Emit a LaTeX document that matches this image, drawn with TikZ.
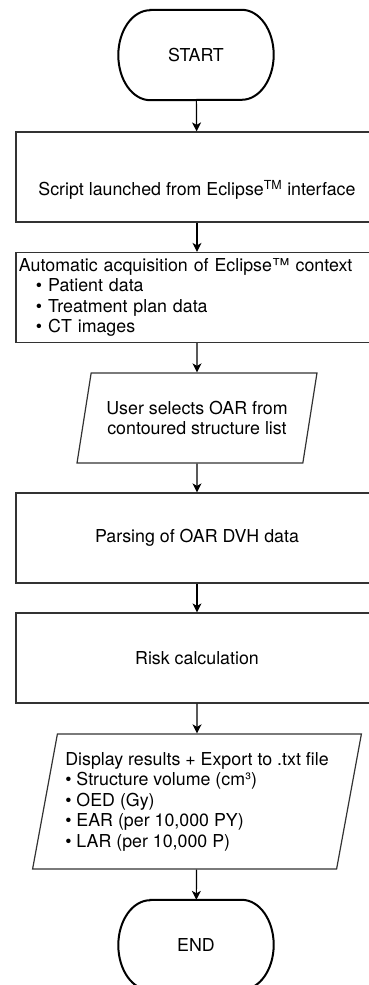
\documentclass[tikz,border=0pt]{standalone}
\usepackage{fontspec}
\setmainfont{TeX Gyre Heros}
\usetikzlibrary{arrows.meta, shapes.geometric}

\begin{document}
\begin{tikzpicture}[
    x=1pt, y=1pt,
    font=\fontsize{17.8}{20.5}\selectfont,
    process/.style={draw=black!80, line width=1.2pt, minimum width=362pt, minimum height=90pt, inner sep=3pt},
    io box/.style={trapezium, trapezium stretches=true, draw=black!80, line width=1.2pt, inner sep=2pt},
    term node/.style={minimum width=155pt, minimum height=90pt},
    term line/.style={line width=2pt},
    arrow/.style={-{Stealth[length=9pt, width=9pt, inset=2.5pt]}, line width=1.2pt}
]
\useasboundingbox (0,0) rectangle (369,-985);
\fill[white] (0,0) rectangle (369,-985);
\clip (0,0) rectangle (369,-985);

% Main Nodes
\node[term node] (start) at (196,-55) {START};
\node[process] (launch) at (197,-177) {\raisebox{-13pt}[\height][\depth]{Script launched from Eclipse\textsuperscript{TM} interface}};
\node[process, text width=356pt, align=left] (context) at (197,-297.5) {Automatic acquisition of Eclipse™ context\\
    \makebox[17pt]{}• Patient data\\
    \makebox[17pt]{}• Treatment plan data\\
    \makebox[17pt]{}• CT images};
\node[io box, trapezium left angle=72, trapezium right angle=108, minimum width=240pt, minimum height=90pt, align=center] (select) at (197,-418) {User selects OAR from\\contoured structure list};
\node[process] (parse) at (197,-538) {Parsing of OAR DVH data};
\node[process] (risk) at (197,-658) {Risk calculation};
\node[io box, trapezium left angle=77, trapezium right angle=103, minimum width=329pt, minimum height=135pt, align=left] (export) at (197,-801.5) {Display results + Export to .txt file\\
    • Structure volume (cm³)\\
    • OED (Gy)\\
    • EAR (per 10,000 PY)\\
    • LAR (per 10,000 P)};
\node[term node] (end) at (196,-945) {END};

% Terminal outlines
\draw[term line] ([xshift=32pt]start.north west) -- ([xshift=-32pt]start.north east)
    arc[start angle=90, end angle=-90, x radius=32pt, y radius=45pt]
    -- ([xshift=32pt]start.south west)
    arc[start angle=270, end angle=90, x radius=32pt, y radius=45pt] -- cycle;
\draw[term line] ([xshift=32pt]end.north west) -- ([xshift=-32pt]end.north east)
    arc[start angle=90, end angle=-90, x radius=32pt, y radius=45pt]
    -- ([xshift=32pt]end.south west)
    arc[start angle=270, end angle=90, x radius=32pt, y radius=45pt] -- cycle;

% Arrows
\draw[arrow] (start) -- (launch);
\draw[arrow] (launch) -- (context);
\draw[arrow] (context) -- (select);
\draw[arrow] (select) -- (parse);
\draw[arrow] (parse) -- (risk);
\draw[arrow] (risk) -- (export);
\draw[arrow] (export) -- (end);
\end{tikzpicture}
\end{document}
